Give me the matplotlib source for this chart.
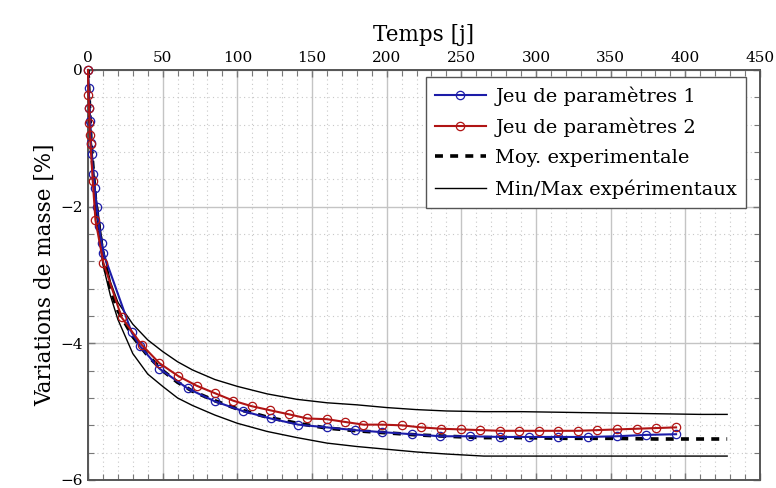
import matplotlib
matplotlib.use('Agg')
import matplotlib.pyplot as plt
from matplotlib.ticker import MultipleLocator

plt.rcParams['font.family'] = ['DejaVu Serif']
plt.rcParams['mathtext.fontset'] = 'dejavuserif'

# experimental data (mean, min, max)
t_exp = [0, 2, 5, 10, 15, 20, 30, 40, 50, 60, 70, 85, 100, 120, 140, 160, 180,
         200, 220, 240, 265, 290, 320, 350, 380, 410, 428]
moy_exp = [0, -1.05, -1.9, -2.72, -3.2, -3.52, -3.9, -4.18, -4.40, -4.57, -4.70,
           -4.84, -4.96, -5.08, -5.17, -5.24, -5.28, -5.31, -5.34, -5.36, -5.38,
           -5.38, -5.39, -5.39, -5.40, -5.40, -5.40]
max_exp = [0, -1.0, -1.8, -2.6, -3.1, -3.4, -3.72, -3.95, -4.12, -4.27, -4.39,
           -4.53, -4.63, -4.74, -4.82, -4.87, -4.90, -4.94, -4.97, -4.99, -5.00,
           -5.00, -5.01, -5.02, -5.03, -5.04, -5.04]
min_exp = [0, -1.1, -2.0, -2.85, -3.3, -3.65, -4.15, -4.45, -4.63, -4.80, -4.91,
           -5.05, -5.17, -5.29, -5.38, -5.46, -5.51, -5.55, -5.59, -5.62, -5.65,
           -5.65, -5.65, -5.65, -5.65, -5.65, -5.65]

# parameter set 1
t_p1 = [0, 0.5, 1.0, 1.5, 2.0, 2.5, 3.5, 4.5, 5.8, 7.4, 9.1, 10.3, 29.2, 34.8,
        47.8, 66.7, 85, 103.5, 122.3, 140.9, 159.8, 178.5, 197, 216.7, 236, 256,
        276, 295.4, 315, 334.6, 354, 373.7, 393.8]
m_p1 = [0, -0.27, -0.56, -0.74, -1.07, -1.23, -1.52, -1.72, -2.0, -2.29, -2.53,
        -2.68, -3.84, -4.04, -4.37, -4.66, -4.85, -4.99, -5.10, -5.19, -5.23,
        -5.27, -5.30, -5.33, -5.36, -5.36, -5.37, -5.37, -5.37, -5.37, -5.36,
        -5.34, -5.33]

# parameter set 2
t_p2 = [0, 0.3, 0.7, 1.0, 1.3, 1.7, 3.2, 5.0, 10.3, 22.5, 35.9, 47.8, 60.5, 72.7,
        85, 97.3, 109.6, 122, 134.8, 146.9, 159.8, 172, 184.4, 197, 210, 223,
        236.4, 249.8, 262.7, 276, 288.9, 301.8, 315, 328.2, 341, 354, 367.4,
        380.4, 393.8]
m_p2 = [0, -0.37, -0.56, -0.78, -0.95, -1.09, -1.63, -2.2, -2.82, -3.62, -4.02,
        -4.29, -4.48, -4.62, -4.73, -4.84, -4.92, -4.98, -5.04, -5.10, -5.11,
        -5.15, -5.19, -5.19, -5.20, -5.23, -5.25, -5.26, -5.27, -5.28, -5.28,
        -5.28, -5.28, -5.28, -5.27, -5.26, -5.25, -5.24, -5.23]

blue = '#1c1ca8'
red = '#b01414'

fig = plt.figure(figsize=(7.76, 4.88), dpi=100)
ax = fig.add_axes([0.1134, 0.0164, 0.866, 0.8402])

ax.plot(t_p1, m_p1, '-o', color=blue, lw=1.5, ms=6, mfc='none', mew=0.9,
        label='Jeu de paramètres 1', zorder=4, clip_on=False)
ax.plot(t_p2, m_p2, '-o', color=red, lw=1.5, ms=6, mfc='none', mew=0.9,
        label='Jeu de paramètres 2', zorder=5, clip_on=False)
ax.plot(t_exp, moy_exp, '--', color='black', lw=2.6, dashes=(2.2, 2.0),
        label='Moy. experimentale', zorder=3)
ax.plot(t_exp, max_exp, '-', color='black', lw=1.0,
        label='Min/Max expérimentaux', zorder=3)
ax.plot(t_exp, min_exp, '-', color='black', lw=1.0, zorder=3)

ax.set_xlim(0, 450)
ax.set_ylim(-6, 0)
ax.xaxis.set_major_locator(MultipleLocator(50))
ax.xaxis.set_minor_locator(MultipleLocator(10))
ax.yaxis.set_major_locator(MultipleLocator(2))
ax.yaxis.set_minor_locator(MultipleLocator(0.4))

ax.grid(which='major', color='#c4c4c4', lw=1.0)
ax.grid(which='minor', color='#c8c8c8', lw=0.8, ls=(0, (1, 3)))
ax.set_axisbelow(True)

ax.xaxis.tick_top()
ax.xaxis.set_label_position('top')
ax.tick_params(which='both', direction='in', top=True, bottom=True,
               left=True, right=True, color='#777777', labelsize=11)
ax.tick_params(which='major', length=5, width=1.0)
ax.tick_params(which='minor', length=4, width=0.8)
for s in ax.spines.values():
    s.set_color('#555555')
    s.set_linewidth(1.4)

ax.set_xlabel('Temps [j]', fontsize=15.5, labelpad=7)
ax.set_ylabel('Variations de masse [%]', fontsize=15.5, labelpad=3)

leg = ax.legend(loc='upper right', bbox_to_anchor=(0.979, 0.982), fontsize=14,
                fancybox=False, framealpha=1, edgecolor='#555555',
                handlelength=2.6, borderpad=0.45, labelspacing=0.62,
                handletextpad=0.5, borderaxespad=0)
leg.get_frame().set_linewidth(1.0)

fig.savefig('out.png', dpi=100)
